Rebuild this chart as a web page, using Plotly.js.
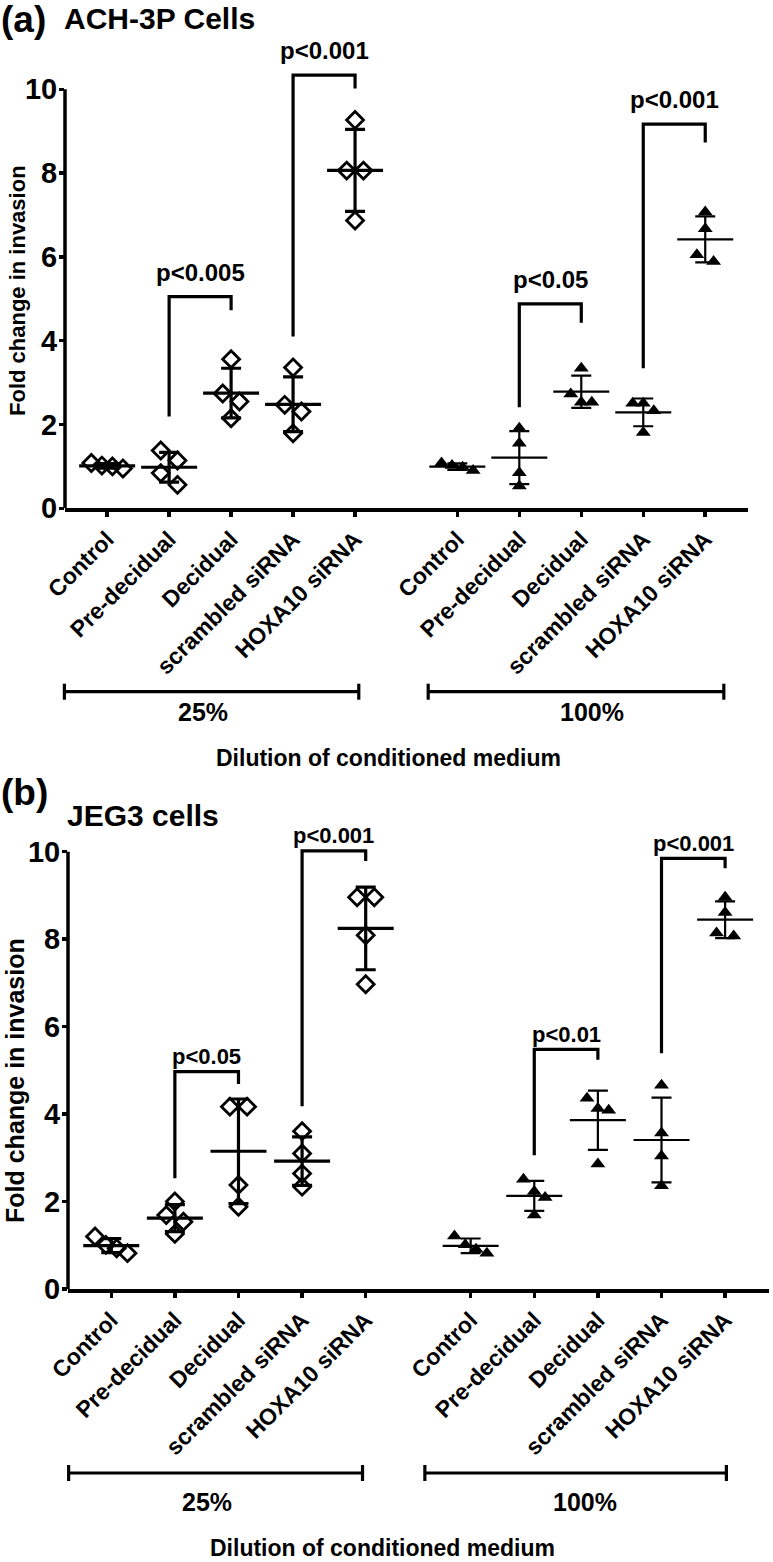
<!DOCTYPE html>
<html>
<head>
<meta charset="utf-8">
<script src="https://cdn.plot.ly/plotly-3.0.1.min.js"></script>
<style>html,body{margin:0;padding:0;background:#fff;}#chart{width:773px;height:1562px;}</style>
</head>
<body>
<div id="chart"></div>
<script>
// ---------- data ----------
const categories = ['Control', 'Pre-decidual', 'Decidual', 'scrambled siRNA', 'HOXA10 siRNA'];
const dilutionLabels = ['25%', '100%'];
const yTicks = [0, 2, 4, 6, 8, 10];

// (a) ACH-3P cells: fold change in invasion, 4 replicates per group
const ach25 = [
  [0.95, 1.00, 1.02, 1.08],
  [1.38, 1.14, 0.84, 0.56],
  [3.56, 2.74, 2.55, 2.15],
  [3.36, 2.47, 2.31, 1.79],
  [9.27, 8.06, 8.06, 6.87]
];
const ach100 = [
  [0.90, 0.98, 1.02, 1.08],
  [1.91, 1.55, 0.85, 0.53],
  [3.34, 2.73, 2.53, 2.53],
  [2.51, 2.51, 2.33, 1.81],
  [7.07, 6.67, 6.05, 5.89]
];
// (b) JEG3 cells
const jeg25 = [
  [1.20, 1.01, 0.93, 0.82],
  [2.00, 1.69, 1.54, 1.26],
  [4.17, 4.17, 2.38, 1.88],
  [3.61, 3.10, 2.64, 2.34],
  [8.96, 8.96, 8.09, 6.97]
];
const jeg100 = [
  [1.21, 1.01, 0.91, 0.82],
  [2.51, 2.23, 2.09, 1.69],
  [4.36, 4.13, 4.09, 2.86],
  [4.66, 3.57, 3.04, 2.36],
  [8.96, 8.61, 8.07, 8.14]
];

// significance brackets: group (0 = 25%, 1 = 100%), categories compared, heights [left end, top, right end]
const achBrackets = [
  {group: 0, from: 1, to: 2, y: [2.19, 5.05, 4.73], label: 'p<0.005'},
  {group: 0, from: 3, to: 4, y: [4.10, 10.34, 10.02], label: 'p<0.001'},
  {group: 1, from: 1, to: 2, y: [2.41, 4.88, 4.43], label: 'p<0.05'},
  {group: 1, from: 3, to: 4, y: [3.34, 9.17, 8.73], label: 'p<0.001'}
];
const jegBrackets = [
  {group: 0, from: 1, to: 2, y: [2.53, 4.97, 4.69], label: 'p<0.05'},
  {group: 0, from: 3, to: 4, y: [4.18, 10.02, 9.79], label: 'p<0.001'},
  {group: 1, from: 1, to: 2, y: [3.06, 5.48, 5.24], label: 'p<0.01'},
  {group: 1, from: 3, to: 4, y: [5.39, 9.85, 9.62], label: 'p<0.001'}
];

// ---------- layout helpers ----------
const W = 773, H = 1562;
const FONT = 'Liberation Sans, Arial, Helvetica, sans-serif';
const GROUP_OFFSET = 5.65;          // x position of the 100% group
const XR = [-0.68, 10.34];
const px = x => x / W;
const py = y => 1 - y / H;
const xpos = (g, c) => c + g * GROUP_OFFSET;

function mean(a) { return a.reduce((s, v) => s + v, 0) / a.length; }
function sd(a) { const m = mean(a); return Math.sqrt(a.reduce((s, v) => s + (v - m) * (v - m), 0) / (a.length - 1)); }

function jitter(vals) {
  const GAP = 0.28;
  const idx = vals.map((v, i) => i).sort((a, b) => vals[b] - vals[a]);
  const off = new Array(vals.length).fill(0);
  let cl = [idx[0]];
  const flush = () => {
    const k = cl.length, step = k <= 2 ? 0.27 : 0.17;
    cl.forEach((j, n) => { off[j] = (n - (k - 1) / 2) * step; });
  };
  for (let t = 1; t < idx.length; t++) {
    if (vals[cl[cl.length - 1]] - vals[idx[t]] < GAP) cl.push(idx[t]);
    else { flush(); cl = [idx[t]]; }
  }
  flush();
  return off;
}

const panels = [
  {xa: 'x', ya: 'y', d25: ach25, d100: ach100, br: achBrackets,
   xdom: [px(65), px(748)], ydom: [py(508.3), py(22.3)], yr: [0, 11.6],
   pOff: 0.58, pSize: 24,
   tag: '(a)', tagY: 20, title: 'ACH-3P Cells', titleX: 62, titleY: 19,
   yTitleX: 17, yTitleY: 291, yTitleSize: 22,
   groupBr: [[-0.69, 4.06], [5.18, 9.95]], groupBrY: 691.7, groupLab: [1.55, 7.82], groupLabY: 711.7,
   dilX: 388, dilY: 758, dilAnchor: 'middle'},
  {xa: 'x2', ya: 'y2', d25: jeg25, d100: jeg100, br: jegBrackets,
   xdom: [px(68), px(769)], ydom: [py(1289), py(808)], yr: [0, 11],
   pOff: 0.34, pSize: 22,
   tag: '(b)', tagY: 792, title: 'JEG3 cells', titleX: 65, titleY: 815,
   yTitleX: 15, yTitleY: 1081, yTitleSize: 25,
   groupBr: [[-0.67, 3.95], [4.93, 9.67]], groupBrY: 1473, groupLab: [1.51, 7.44], groupLabY: 1502,
   dilX: 382, dilY: 1562, dilAnchor: 'bottom'}
];

const traces = [], shapes = [], annotations = [];
const layout = {
  width: W, height: H, margin: {l: 0, r: 0, t: 0, b: 0},
  paper_bgcolor: '#fff', plot_bgcolor: 'rgba(0,0,0,0)', showlegend: false,
  font: {family: FONT, color: '#000'}
};

panels.forEach((P, pi) => {
  const sfx = pi === 0 ? '' : '2';
  const toPaperX = x => P.xdom[0] + (x - XR[0]) / (XR[1] - XR[0]) * (P.xdom[1] - P.xdom[0]);

  [P.d25, P.d100].forEach((data, g) => {
    const isDiamond = g === 0;
    const xs = [], ys = [], mx = [], my = [], me = [];
    data.forEach((vals, c) => {
      const off = jitter(vals);
      vals.forEach((v, k) => { xs.push(xpos(g, c) + off[k]); ys.push(v); });
      mx.push(xpos(g, c)); my.push(mean(vals)); me.push(sd(vals));
    });
    traces.push({
      type: 'scatter', mode: 'markers', x: xs, y: ys, xaxis: P.xa, yaxis: P.ya, cliponaxis: false,
      marker: isDiamond
        ? {symbol: 'diamond-open', size: 13, color: '#000', line: {color: '#000', width: 2.8}}
        : {symbol: 'triangle-up', size: 13, color: '#000', line: {width: 0}},
      hoverinfo: 'skip'
    });
    traces.push({
      type: 'scatter', mode: 'markers', x: mx, y: my, xaxis: P.xa, yaxis: P.ya, cliponaxis: false,
      marker: {symbol: 'line-ew', size: 40, color: '#000', line: {color: '#000', width: isDiamond ? 3.2 : 2.2}},
      error_y: {type: 'data', array: me, visible: true, color: '#000', thickness: isDiamond ? 3.2 : 2.2, width: 10},
      hoverinfo: 'skip'
    });
  });

  P.br.forEach(b => {
    const xl = xpos(b.group, b.from), xr = xpos(b.group, b.to);
    traces.push({
      type: 'scatter', mode: 'lines', x: [xl, xl, xr, xr], y: [b.y[0], b.y[1], b.y[1], b.y[2]],
      xaxis: P.xa, yaxis: P.ya, line: {color: '#000', width: 3.2}, hoverinfo: 'skip'
    });
    annotations.push({
      xref: P.xa, yref: P.ya, x: (xl + xr) / 2, y: b.y[1] + P.pOff, text: b.label, showarrow: false,
      xanchor: 'center', yanchor: 'middle', font: {family: FONT, size: P.pSize, weight: 700, color: '#000'}
    });
  });

  layout['xaxis' + sfx] = {
    domain: P.xdom, range: XR, anchor: 'y' + sfx, showgrid: false, zeroline: false,
    showline: true, linecolor: '#000', linewidth: 3.5,
    tickmode: 'array',
    tickvals: categories.map((c, i) => xpos(0, i)).concat(categories.map((c, i) => xpos(1, i))),
    ticktext: categories.concat(categories),
    ticks: 'outside', ticklen: 5, tickwidth: 3.5, tickcolor: '#000', tickangle: -45,
    tickfont: {family: FONT, size: 23, weight: 700, color: '#000'}, fixedrange: true
  };
  layout['yaxis' + sfx] = {
    domain: P.ydom, range: P.yr, anchor: 'x' + sfx, showgrid: false, zeroline: false,
    showline: false, tickmode: 'array', tickvals: yTicks, ticktext: yTicks.map(String),
    ticks: 'outside', ticklen: 5, tickwidth: 3.5, tickcolor: '#000', ticklabelstandoff: -4,
    tickfont: {family: FONT, size: 29, weight: 700, color: '#000'}, fixedrange: true
  };

  // y axis line from 0 to 10
  shapes.push({type: 'line', xref: 'paper', yref: P.ya, x0: P.xdom[0], x1: P.xdom[0], y0: 0, y1: 10,
    line: {color: '#000', width: 3.5}});

  // dilution group brackets
  P.groupBr.forEach((gb, gi) => {
    const x0 = toPaperX(gb[0]), x1 = toPaperX(gb[1]), yy = py(P.groupBrY);
    shapes.push({type: 'line', xref: 'paper', yref: 'paper', x0: x0, x1: x1, y0: yy, y1: yy, line: {color: '#000', width: 3.2}});
    [x0, x1].forEach(xx => shapes.push({type: 'line', xref: 'paper', yref: 'paper', x0: xx, x1: xx,
      y0: py(P.groupBrY - 8), y1: py(P.groupBrY + 8), line: {color: '#000', width: 3.2}}));
    annotations.push({xref: 'paper', yref: 'paper', x: toPaperX(P.groupLab[gi]), y: py(P.groupLabY),
      text: dilutionLabels[gi], showarrow: false, xanchor: 'center', yanchor: 'middle',
      font: {family: FONT, size: 25, weight: 700, color: '#000'}});
  });

  annotations.push({xref: 'paper', yref: 'paper', x: px(P.dilX), y: py(P.dilY), text: 'Dilution of conditioned medium',
    showarrow: false, xanchor: 'center', yanchor: P.dilAnchor, borderpad: 0,
    font: {family: FONT, size: 23, weight: 700, color: '#000'}});
  annotations.push({xref: 'paper', yref: 'paper', x: px(P.yTitleX), y: py(P.yTitleY), text: 'Fold change in invasion',
    textangle: -90, showarrow: false, xanchor: 'center', yanchor: 'middle',
    font: {family: FONT, size: P.yTitleSize, weight: 700, color: '#000'}});
  annotations.push({xref: 'paper', yref: 'paper', x: 0, y: py(P.tagY), text: P.tag, showarrow: false,
    xanchor: 'left', yanchor: 'middle', borderpad: 0, font: {family: FONT, size: 37, weight: 700, color: '#000'}});
  annotations.push({xref: 'paper', yref: 'paper', x: px(P.titleX), y: py(P.titleY), text: P.title, showarrow: false,
    xanchor: 'left', yanchor: 'middle', font: {family: FONT, size: 30, weight: 700, color: '#000'}});
});

layout.shapes = shapes;
layout.annotations = annotations;
Plotly.newPlot('chart', traces, layout, {staticPlot: true, displayModeBar: false});
</script>
</body>
</html>
